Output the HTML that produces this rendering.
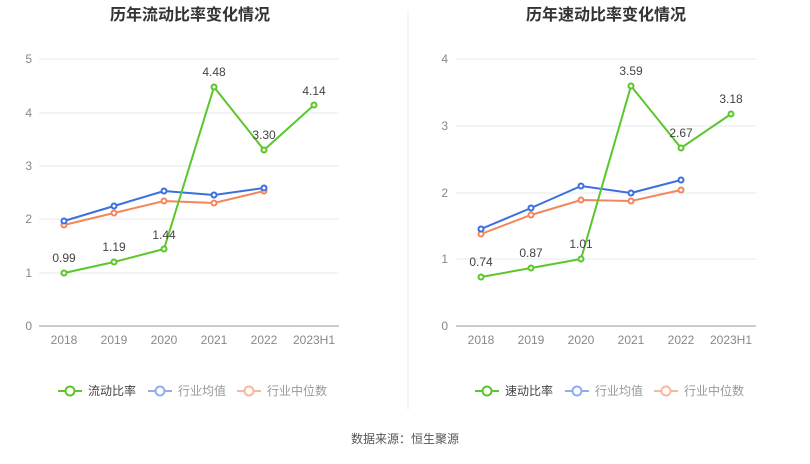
<!DOCTYPE html>
<html><head><meta charset="utf-8"><style>
body{margin:0;background:#fff;}
svg text{font-family:"Liberation Sans","Noto Sans CJK SC",sans-serif;}
</style></head><body>
<svg width="810" height="459" xmlns="http://www.w3.org/2000/svg">
<rect width="810" height="459" fill="#fff"/>
<line x1="408" y1="10" x2="408" y2="410" stroke="#eee"/>
<text x="190" y="20" font-size="16" font-weight="bold" fill="#333" text-anchor="middle">历年流动比率变化情况</text>
<text x="606" y="20" font-size="16" font-weight="bold" fill="#333" text-anchor="middle">历年速动比率变化情况</text>
<g font-size="12" fill="#888" text-anchor="end">
<text x="32" y="63">5</text><text x="32" y="117">4</text><text x="32" y="170">3</text><text x="32" y="223">2</text><text x="32" y="277">1</text><text x="32" y="330">0</text>
<text x="448" y="63">4</text><text x="448" y="130">3</text><text x="448" y="197">2</text><text x="448" y="263">1</text><text x="448" y="330">0</text>
</g>
<g stroke="#e6e9ef">
<line x1="39" x2="339" y1="59" y2="59"/><line x1="39" x2="339" y1="113" y2="113"/><line x1="39" x2="339" y1="166" y2="166"/><line x1="39" x2="339" y1="219" y2="219"/><line x1="39" x2="339" y1="273" y2="273"/>
<line x1="456" x2="756" y1="59" y2="59"/><line x1="456" x2="756" y1="126" y2="126"/><line x1="456" x2="756" y1="193" y2="193"/><line x1="456" x2="756" y1="259" y2="259"/>
</g>
<g stroke="#999"><line x1="39" x2="339" y1="326" y2="326"/><line x1="456" x2="756" y1="326" y2="326"/></g>
<g font-size="12" fill="#888" text-anchor="middle">
<text x="64" y="344">2018</text><text x="114" y="344">2019</text><text x="164" y="344">2020</text><text x="214" y="344">2021</text><text x="264" y="344">2022</text><text x="314" y="344">2023H1</text>
<text x="481" y="344">2018</text><text x="531" y="344">2019</text><text x="581" y="344">2020</text><text x="631" y="344">2021</text><text x="681" y="344">2022</text><text x="731" y="344">2023H1</text>
</g>
<g fill="#fff" stroke-width="2">
<polyline fill="none" stroke="#f5855a" points="64,225 114,213 164,201 214,203 264,191"/>
<polyline fill="none" stroke="#3a6fe0" points="64,221 114,206 164,191 214,195 264,188"/>
<polyline fill="none" stroke="#5ac72a" points="64,273 114,262 164,249 214,87 264,150 314,105"/>
<polyline fill="none" stroke="#f5855a" points="481,234 531,215 581,200 631,201 681,190"/>
<polyline fill="none" stroke="#3a6fe0" points="481,229 531,208 581,186 631,193 681,180"/>
<polyline fill="none" stroke="#5ac72a" points="481,277 531,268 581,259 631,86 681,148 731,114"/>
<g stroke="#f5855a"><circle cx="64" cy="225" r="2.5"/><circle cx="114" cy="213" r="2.5"/><circle cx="164" cy="201" r="2.5"/><circle cx="214" cy="203" r="2.5"/><circle cx="264" cy="191" r="2.5"/>
<circle cx="481" cy="234" r="2.5"/><circle cx="531" cy="215" r="2.5"/><circle cx="581" cy="200" r="2.5"/><circle cx="631" cy="201" r="2.5"/><circle cx="681" cy="190" r="2.5"/></g>
<g stroke="#3a6fe0"><circle cx="64" cy="221" r="2.5"/><circle cx="114" cy="206" r="2.5"/><circle cx="164" cy="191" r="2.5"/><circle cx="214" cy="195" r="2.5"/><circle cx="264" cy="188" r="2.5"/>
<circle cx="481" cy="229" r="2.5"/><circle cx="531" cy="208" r="2.5"/><circle cx="581" cy="186" r="2.5"/><circle cx="631" cy="193" r="2.5"/><circle cx="681" cy="180" r="2.5"/></g>
<g stroke="#5ac72a"><circle cx="64" cy="273" r="2.5"/><circle cx="114" cy="262" r="2.5"/><circle cx="164" cy="249" r="2.5"/><circle cx="214" cy="87" r="2.5"/><circle cx="264" cy="150" r="2.5"/><circle cx="314" cy="105" r="2.5"/>
<circle cx="481" cy="277" r="2.5"/><circle cx="531" cy="268" r="2.5"/><circle cx="581" cy="259" r="2.5"/><circle cx="631" cy="86" r="2.5"/><circle cx="681" cy="148" r="2.5"/><circle cx="731" cy="114" r="2.5"/></g>
</g>
<g font-size="12" fill="#444" text-anchor="middle">
<text x="64" y="262">0.99</text><text x="114" y="251">1.19</text><text x="164" y="239">1.44</text><text x="214" y="76">4.48</text><text x="264" y="139">3.30</text><text x="314" y="95">4.14</text>
<text x="481" y="266">0.74</text><text x="531" y="257">0.87</text><text x="581" y="248">1.01</text><text x="631" y="75">3.59</text><text x="681" y="137">2.67</text><text x="731" y="103">3.18</text>
</g>
<g stroke-width="2" fill="#fff">
<line x1="58" x2="82" y1="391" y2="391" stroke="#5ac72a"/><circle cx="70" cy="391" r="4.5" stroke="#5ac72a"/>
<line x1="148" x2="172" y1="391" y2="391" stroke="#8fadf0"/><circle cx="160" cy="391" r="4.5" stroke="#8fadf0"/>
<line x1="237" x2="261" y1="391" y2="391" stroke="#f9b89d"/><circle cx="249" cy="391" r="4.5" stroke="#f9b89d"/>
<line x1="475" x2="499" y1="391" y2="391" stroke="#5ac72a"/><circle cx="487" cy="391" r="4.5" stroke="#5ac72a"/>
<line x1="565" x2="589" y1="391" y2="391" stroke="#8fadf0"/><circle cx="577" cy="391" r="4.5" stroke="#8fadf0"/>
<line x1="654" x2="678" y1="391" y2="391" stroke="#f9b89d"/><circle cx="666" cy="391" r="4.5" stroke="#f9b89d"/>
</g>
<g font-size="12">
<text x="88" y="395" fill="#444">流动比率</text><text x="178" y="395" fill="#999">行业均值</text><text x="267" y="395" fill="#999">行业中位数</text>
<text x="505" y="395" fill="#444">速动比率</text><text x="595" y="395" fill="#999">行业均值</text><text x="684" y="395" fill="#999">行业中位数</text>
</g>
<text x="405" y="443" font-size="12" fill="#555" text-anchor="middle">数据来源：恒生聚源</text>
</svg>
</body></html>
